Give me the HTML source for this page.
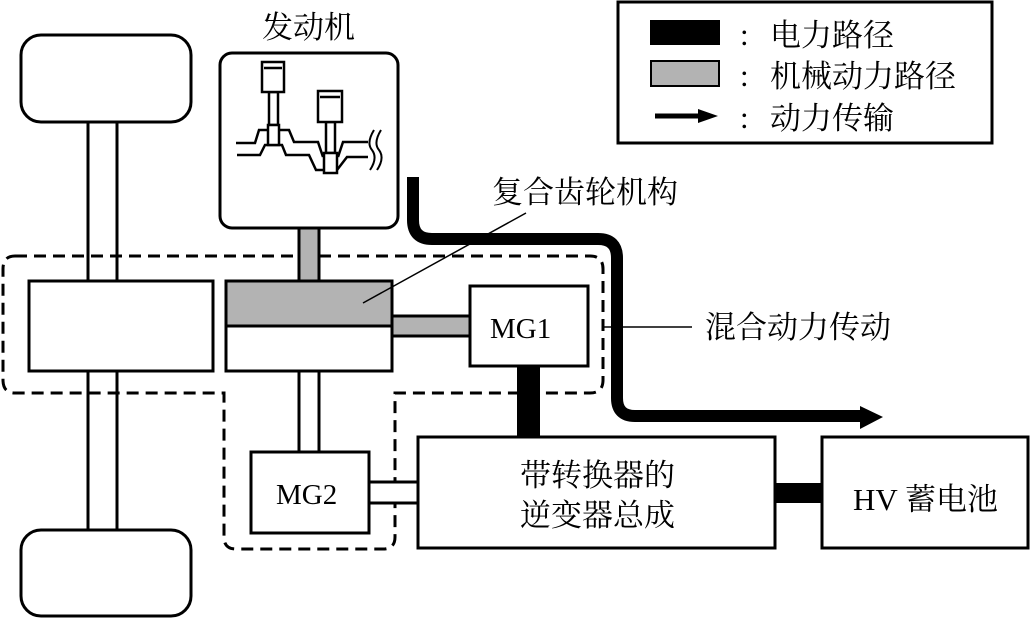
<!DOCTYPE html>
<html><head><meta charset="utf-8"><style>
html,body{margin:0;padding:0;background:#fff}
svg{display:block}
text{font-family:"Liberation Serif","Noto Serif CJK SC",serif;fill:#000}
</style></head><body>
<svg width="1030" height="619" viewBox="0 0 1030 619" xmlns="http://www.w3.org/2000/svg">
<g stroke="#000" stroke-width="3" fill="#fff">
<rect x="88" y="120" width="29" height="412"/>
<rect x="21" y="35" width="170" height="87" rx="20"/>
<rect x="21" y="530" width="170" height="86" rx="20"/>
<path d="M15,256 H590 Q603,256 603,269 V380 Q603,393 590,393 H395 V537 Q395,549 383,549 H236 Q224,549 224,537 V393 H15 Q3,393 3,380 V269 Q3,256 15,256 Z" fill="none" stroke-dasharray="12,7" stroke-width="3"/>
<rect x="29" y="281" width="184" height="90"/>
<rect x="220" y="53" width="178" height="175" rx="12"/>
<rect x="299" y="228" width="20" height="53" fill="#b3b3b3"/>
<rect x="226" y="281" width="166" height="90"/>
<rect x="226" y="281" width="166" height="45" fill="#b3b3b3"/>
<rect x="392" y="316" width="78" height="20" fill="#b3b3b3"/>
<rect x="299" y="371" width="20" height="81"/>
<rect x="470" y="286" width="118" height="80"/>
<rect x="251" y="452" width="118" height="81"/>
<rect x="369" y="482" width="49" height="21"/>
<rect x="418" y="437" width="357" height="111"/>
<rect x="822" y="437" width="206" height="111"/>
<rect x="618" y="2" width="374" height="141"/>
</g>
<rect x="517" y="366" width="23" height="71" fill="#000"/>
<rect x="775" y="483" width="47" height="20" fill="#000"/>
<path d="M413,177 V220 Q413,239 432,239 H598 Q617,239 617,258 V398 Q617,416 635,416 H862" fill="none" stroke="#000" stroke-width="12"/>
<polygon points="860,406 883,417 860,429" fill="#000"/>
<line x1="526" y1="213" x2="363" y2="303" stroke="#000" stroke-width="1.5"/>
<line x1="603" y1="327" x2="692" y2="327" stroke="#000" stroke-width="1.5"/>
<g stroke="#000" stroke-width="2.5" fill="#fff">
<polyline points="236,143 255,143 259,130 289,130 294,142 318,142 323,157" fill="none"/>
<polyline points="338,157 343,142 368,142" fill="none"/>
<polyline points="237,155 260,155 265,145 282,145 286,155 309,155 316,170 324,170" fill="none"/>
<polyline points="337,170 347,157 368,157" fill="none"/>
<rect x="269" y="92" width="9" height="33"/>
<rect x="268" y="125" width="11" height="20"/>
<rect x="262" y="62" width="22" height="30"/>
<line x1="264" y1="68" x2="282" y2="68"/>
<rect x="326" y="122" width="9" height="31"/>
<rect x="324" y="153" width="13" height="20"/>
<rect x="318" y="91" width="24" height="31"/>
<line x1="320" y1="97" x2="340" y2="97"/>
<path d="M374,130 Q366,143 372,150 Q378,158 370,170 M381,130 Q373,143 379,150 Q385,158 377,170" fill="none" stroke-width="2"/>
</g>
<rect x="650" y="20" width="70" height="25" fill="#000"/>
<rect x="651" y="61" width="68" height="25" fill="#b3b3b3" stroke="#000" stroke-width="2"/>
<line x1="655" y1="116" x2="700" y2="116" stroke="#000" stroke-width="5"/>
<polygon points="698,109 718,116 698,123" fill="#000"/>
<g font-size="31">
<text x="740" y="45">:</text><text x="770" y="46">电力路径</text>
<text x="740" y="86">:</text><text x="770" y="87">机械动力路径</text>
<text x="740" y="128">:</text><text x="770" y="129">动力传输</text>
<text x="262" y="38">发动机</text>
<text x="492" y="203">复合齿轮机构</text>
<text x="705" y="338">混合动力传动</text>
<text x="520" y="486">带转换器的</text>
<text x="520" y="526">逆变器总成</text>
<text x="853" y="510">HV 蓄电池</text>
<text x="490" y="338" font-size="29">MG1</text>
<text x="276" y="504" font-size="29">MG2</text>
</g>
</svg>
</body></html>
